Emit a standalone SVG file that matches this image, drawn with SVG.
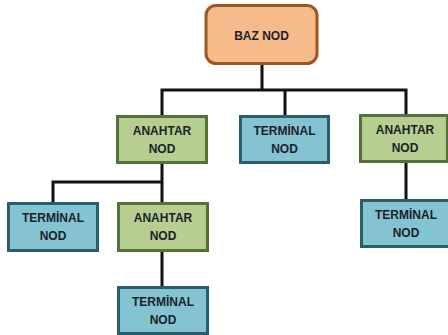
<svg xmlns="http://www.w3.org/2000/svg" width="448" height="335" viewBox="0 0 448 335">
<style>
.t{font-family:"Liberation Sans",Arial,sans-serif;font-weight:bold;font-size:12px;fill:#1c1f2a;text-anchor:middle}
.g{fill:#B6CF91;stroke:#56703A;stroke-width:3}
.b{fill:#84C4D2;stroke:#2B5E6C;stroke-width:3}
.o{fill:#F5BB8B;stroke:#9D5522;stroke-width:3}
.c{fill:none;stroke:#111;stroke-width:3;stroke-linejoin:miter}
</style>
<rect width="448" height="335" fill="#fff"/>
<g id="connectors">
<path class="c" d="M262 64V90M162 116V90H406V115M285 90V116"/>
<path class="c" d="M162 163V182M53 203V182H162V203"/>
<path class="c" d="M162 251V287"/>
<path class="c" d="M406 162V200"/>
</g>
<g id="baz"><rect class="o" x="206" y="5.5" width="111" height="58" rx="10"/><text class="t" x="261.5" y="40">BAZ NOD</text></g>
<g id="anahtar1"><rect class="g" x="117.5" y="116.5" width="89" height="46"/><text class="t" x="162" y="135">ANAHTAR</text><text class="t" x="162" y="153">NOD</text></g>
<g id="terminal1"><rect class="b" x="240.5" y="116.5" width="88" height="46"/><text class="t" x="284.5" y="135">TERMİNAL</text><text class="t" x="284.5" y="153">NOD</text></g>
<g id="anahtar2"><rect class="g" x="360.5" y="115.5" width="87" height="46"/><text class="t" x="405" y="134">ANAHTAR</text><text class="t" x="405" y="152">NOD</text></g>
<g id="terminal2"><rect class="b" x="8.5" y="203.5" width="89" height="47"/><text class="t" x="53" y="222">TERMİNAL</text><text class="t" x="53" y="240">NOD</text></g>
<g id="anahtar3"><rect class="g" x="118.5" y="203.5" width="89" height="47"/><text class="t" x="163" y="222">ANAHTAR</text><text class="t" x="163" y="240">NOD</text></g>
<g id="terminal3"><rect class="b" x="118.5" y="287.5" width="89" height="46"/><text class="t" x="163" y="306">TERMİNAL</text><text class="t" x="163" y="324">NOD</text></g>
<g id="terminal4"><rect class="b" x="361.5" y="200.5" width="89" height="46"/><text class="t" x="406" y="219">TERMİNAL</text><text class="t" x="406" y="237">NOD</text></g>
</svg>
